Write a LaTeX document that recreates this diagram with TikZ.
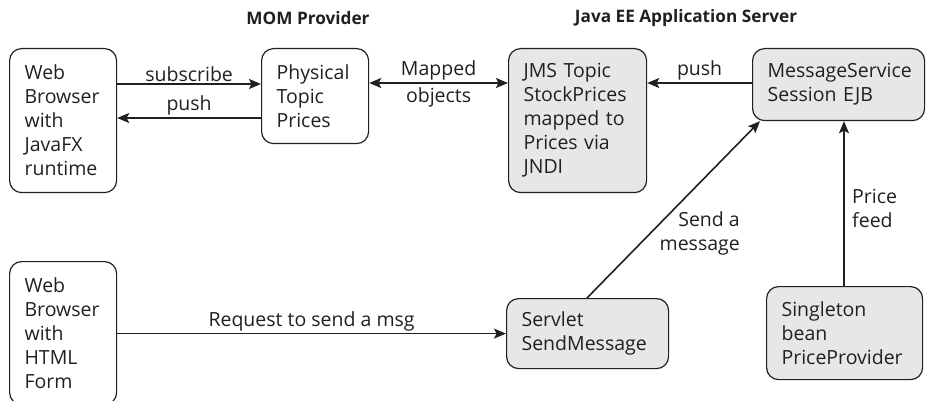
\documentclass[tikz,border=0pt]{standalone}
\usepackage{fontspec}
\setmainfont{Open Sans}
\usetikzlibrary{arrows.meta,calc}
\definecolor{ink}{HTML}{231F20}
\definecolor{boxgray}{HTML}{E6E7E8}
\tikzset{
  box/.style={draw=ink, line width=1.2pt, rounded corners=12pt, align=left,
    inner xsep=15pt, inner ysep=0pt, anchor=north west, text=ink,
    font=\fontsize{19.5}{24}\selectfont},
  graybox/.style={box, fill=boxgray},
  arr/.style={draw=ink, line width=1.6pt, -{Stealth[length=12pt,width=10pt,inset=2.5pt]}},
  darr/.style={draw=ink, line width=1.6pt, {Stealth[length=12pt,width=10pt,inset=2.5pt]}-{Stealth[length=12pt,width=10pt,inset=2.5pt]}},
  lbl/.style={text=ink, font=\fontsize{19.5}{24}\selectfont, inner sep=2pt},
  title/.style={text=ink, font=\fontsize{17.2}{20}\selectfont\bfseries}
}
\begin{document}
\begin{tikzpicture}[x=1pt,y=-1pt]
\useasboundingbox (0,0) rectangle (927,401);
% titles
\node[title] (t1) at (308,18) {MOM Provider};
\node[title] (t2) at (686,18) {Java EE Application Server};
% boxes
\node[box, minimum width=107pt, minimum height=144pt, text width=77pt] (A) at (9,48)
  {Web\\Browser\\with\\JavaFX\\runtime};
\node[box, minimum width=107pt, minimum height=95pt, text width=77pt] (B) at (261,48)
  {Physical\\Topic\\Prices};
\node[graybox, minimum width=138pt, minimum height=144pt, text width=108pt] (C) at (508,48)
  {JMS Topic\\StockPrices\\mapped to\\Prices via\\JNDI};
\node[graybox, minimum width=172pt, minimum height=72pt, text width=142pt, inner xsep=15pt] (D) at (752,48)
  {MessageService\\Session EJB};
\node[box, minimum width=107pt, minimum height=143pt, text width=77pt] (E) at (9,261)
  {Web\\Browser\\with\\HTML\\Form};
\node[graybox, minimum width=162pt, minimum height=70pt, text width=132pt] (F) at (506,298)
  {Servlet\\SendMessage};
\node[graybox, minimum width=156pt, minimum height=93pt, text width=126pt] (G) at (766,286)
  {Singleton\\bean\\PriceProvider};
% connectors
\draw[arr] ([yshift=-36pt]A.north east) -- node[lbl, above] {subscribe} ([yshift=-36pt]B.north west);
\draw[arr] ([yshift=-70pt]B.north west) -- node[lbl, above] {push} ([yshift=-70pt]A.north east);
\draw[darr] ([yshift=-35pt]B.north east) -- node[lbl, above] {Mapped} node[lbl, below, inner sep=4pt] {objects} ([yshift=-35pt]C.north west);
\draw[arr] ([yshift=-35pt]D.north west) -- node[lbl, above] {push} ([yshift=-35pt]C.north east);
\draw[arr] ([xshift=81pt]F.north west) -- ([xshift=8pt]D.south west);
\node[lbl, align=right, anchor=east] (sm) at (742,233) {Send a\\message};
\draw[arr] ([xshift=78pt]G.north west) -- ([xshift=78pt]G.north west |- D.south);
\node[lbl, align=left, anchor=west] (pf) at (850,208) {Price\\feed};
\draw[arr] (E.east |- F.west) -- node[lbl, above] {Request to send a msg} (F.west);
\end{tikzpicture}
\end{document}
